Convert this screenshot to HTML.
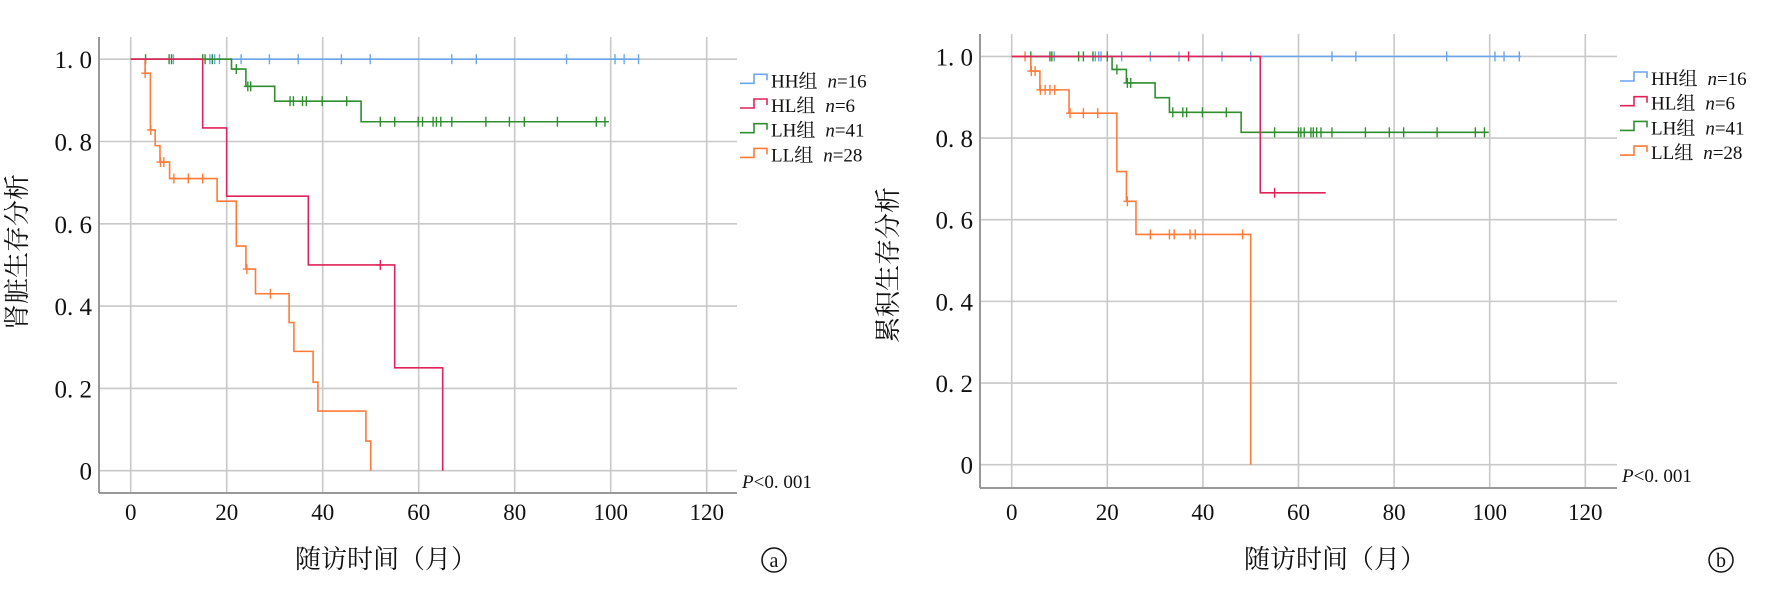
<!DOCTYPE html>
<html><head><meta charset="utf-8"><style>
body{margin:0;background:#fff;}
svg{display:block}
text{font-family:"Liberation Serif","Noto Serif CJK SC","Noto Sans CJK SC",serif;fill:#111}
</style></head><body>
<svg id="s" width="1772" height="591" xmlns="http://www.w3.org/2000/svg"></svg>
<script>
const S=document.getElementById('s');let h='';
const C={HH:'#6aa6ec',HL:'#e0245a',LH:'#2f8f2f',LL:'#ff7b3a'};
function chart(o){
 const X=m=>o.x0+m*o.xs, Y=v=>o.y0-v*o.ys;
 for(let m=0;m<=120;m+=20)h+=`<line x1="${X(m)}" y1="${o.top}" x2="${X(m)}" y2="${o.bot}" stroke="#c8c8c8" stroke-width="1.6"/>`;
 for(let v=0;v<=1.001;v+=0.2)h+=`<line x1="${o.ax}" y1="${Y(v)}" x2="${o.right}" y2="${Y(v)}" stroke="#c8c8c8" stroke-width="1.6"/>`;
 h+=`<line x1="${o.ax}" y1="${o.top}" x2="${o.ax}" y2="${o.bot}" stroke="#999" stroke-width="2"/>`;
 h+=`<line x1="${o.ax}" y1="${o.bot}" x2="${o.right}" y2="${o.bot}" stroke="#999" stroke-width="2"/>`;
 ['0','0. 2','0. 4','0. 6','0. 8','1. 0'].forEach((t,i)=>h+=`<text x="${o.ax-7}" y="${Y(i*0.2)+9}" font-size="25" text-anchor="end">${t}</text>`);
 for(let m=0;m<=120;m+=20)h+=`<text x="${X(m)}" y="${o.ty}" font-size="23" text-anchor="middle">${m}</text>`;
 for(const k of ['HH','LH','LL','HL']){const d=o.d[k];if(!d)continue;
  let p=`M${X(0)},${Y(1)}`;
  d.steps.forEach(s=>{p+=`H${X(s[0])}V${Y(s[1])}`;});
  p+=`H${X(d.end)}`;
  h+=`<path d="${p}" fill="none" stroke="${C[k]}" stroke-width="1.6"/>`;
  d.c.forEach(c=>{let vv=1;d.steps.forEach(s=>{if(s[0]<=c)vv=s[1];});
   h+=`<line x1="${X(c)}" y1="${Y(vv)-5}" x2="${X(c)}" y2="${Y(vv)+5}" stroke="${C[k]}" stroke-width="1.4"/>`;
   if(k!=='HH')h+=`<line x1="${X(c)-4}" y1="${Y(vv)}" x2="${X(c)+4}" y2="${Y(vv)}" stroke="${C[k]}" stroke-width="1.4"/>`;});
 }
 const L=[['HH','16'],['HL','6'],['LH','41'],['LL','28']];
 L.forEach((l,i)=>{const y=o.ly+i*24.7,x=o.lx;
  h+=`<path d="M${x},${y+4}H${x+14}V${y-5}H${x+27}V${y+1}" fill="none" stroke="${C[l[0]]}" stroke-width="1.6"/>`;
  h+=`<text x="${x+31}" y="${y+8}" font-size="19">${l[0]}组<tspan dx="10" font-style="italic">n</tspan>=${l[1]}</text>`;});
 h+=`<text x="${o.lx+2}" y="${o.py}" font-size="19"><tspan font-style="italic">P</tspan>&lt;0. 001</text>`;
 h+=`<text transform="translate(${o.ylx},${o.yly}) rotate(-90)" font-size="26" text-anchor="middle">${o.yl}</text>`;
 h+=`<text x="${o.xlx}" y="568" font-size="26" text-anchor="middle">随访时间（月）</text>`;
 h+=`<circle cx="${o.cx}" cy="560" r="12" fill="none" stroke="#111" stroke-width="1.5"/><text x="${o.cx}" y="567" font-size="20" text-anchor="middle">${o.tag}</text>`;
}
chart({x0:130.7,xs:4.8,y0:470.7,ys:411.5,ax:99,right:737,top:37,bot:493,ty:520,lx:740,ly:79.3,py:488,yl:'肾脏生存分析',ylx:26,yly:252,xlx:386,cx:774,tag:'a',
 d:{HH:{steps:[],end:106,c:[8.9,16.5,17.5,18.5,23,28.9,34.9,43.9,49.9,66.9,72,90.8,100.9,102.8,105.8]},
 HL:{steps:[[15,0.833],[20,0.667],[37,0.5],[55,0.25],[65,0]],end:65,c:[52]},
 LH:{steps:[[21,0.976],[24,0.934],[30,0.898],[48,0.848]],end:99.5,c:[3.1,8,8.5,15,15.5,17,22,24.4,25,33.2,33.9,35.8,36.6,39.9,45,52,55,59.9,60.8,63,63.7,64.6,66.9,74,78.9,82,88.9,97,98.8]},
 LL:{steps:[[3,0.966],[4.1,0.828],[5.1,0.79],[6.1,0.75],[8.1,0.71],[18,0.655],[22,0.546],[24,0.49],[26,0.43],[33,0.36],[34,0.29],[38,0.215],[39,0.145],[49,0.072],[50,0]],end:50,c:[3,4.2,6.2,6.9,9,12,15,24.2,29.1]}}});
chart({x0:1011.7,xs:4.78,y0:464.7,ys:408.3,ax:980,right:1617,top:34,bot:488,ty:520,lx:1620,ly:77,py:482,yl:'累积生存分析',ylx:897,yly:265,xlx:1335,cx:1721,tag:'b',
 d:{HH:{steps:[],end:106.5,c:[8.9,17.5,18.2,18.7,23,29,35,44,50,67,72,91,101.1,103,106.2]},
 HL:{steps:[[52,0.666]],end:65.7,c:[37,55]},
 LH:{steps:[[21,0.968],[24,0.935],[30,0.899],[33,0.863],[48,0.814]],end:99.8,c:[4,8,8.4,14,15,17,20,22,24.2,24.9,33.7,35.8,36.6,39.9,44.9,52,55,60,60.5,61.2,62.6,63.1,63.8,64.7,67,74,79,82,89,97,98.9]},
 LL:{steps:[[4,0.964],[5.9,0.918],[12,0.861],[22,0.718],[24,0.645],[26,0.564],[50,0]],end:50,c:[2.8,4.1,4.9,6,7,8,9,12.2,15,18,24.2,29,33,34,37.3,38.4,48.3]}}});
S.innerHTML=h;
</script>
</body></html>
